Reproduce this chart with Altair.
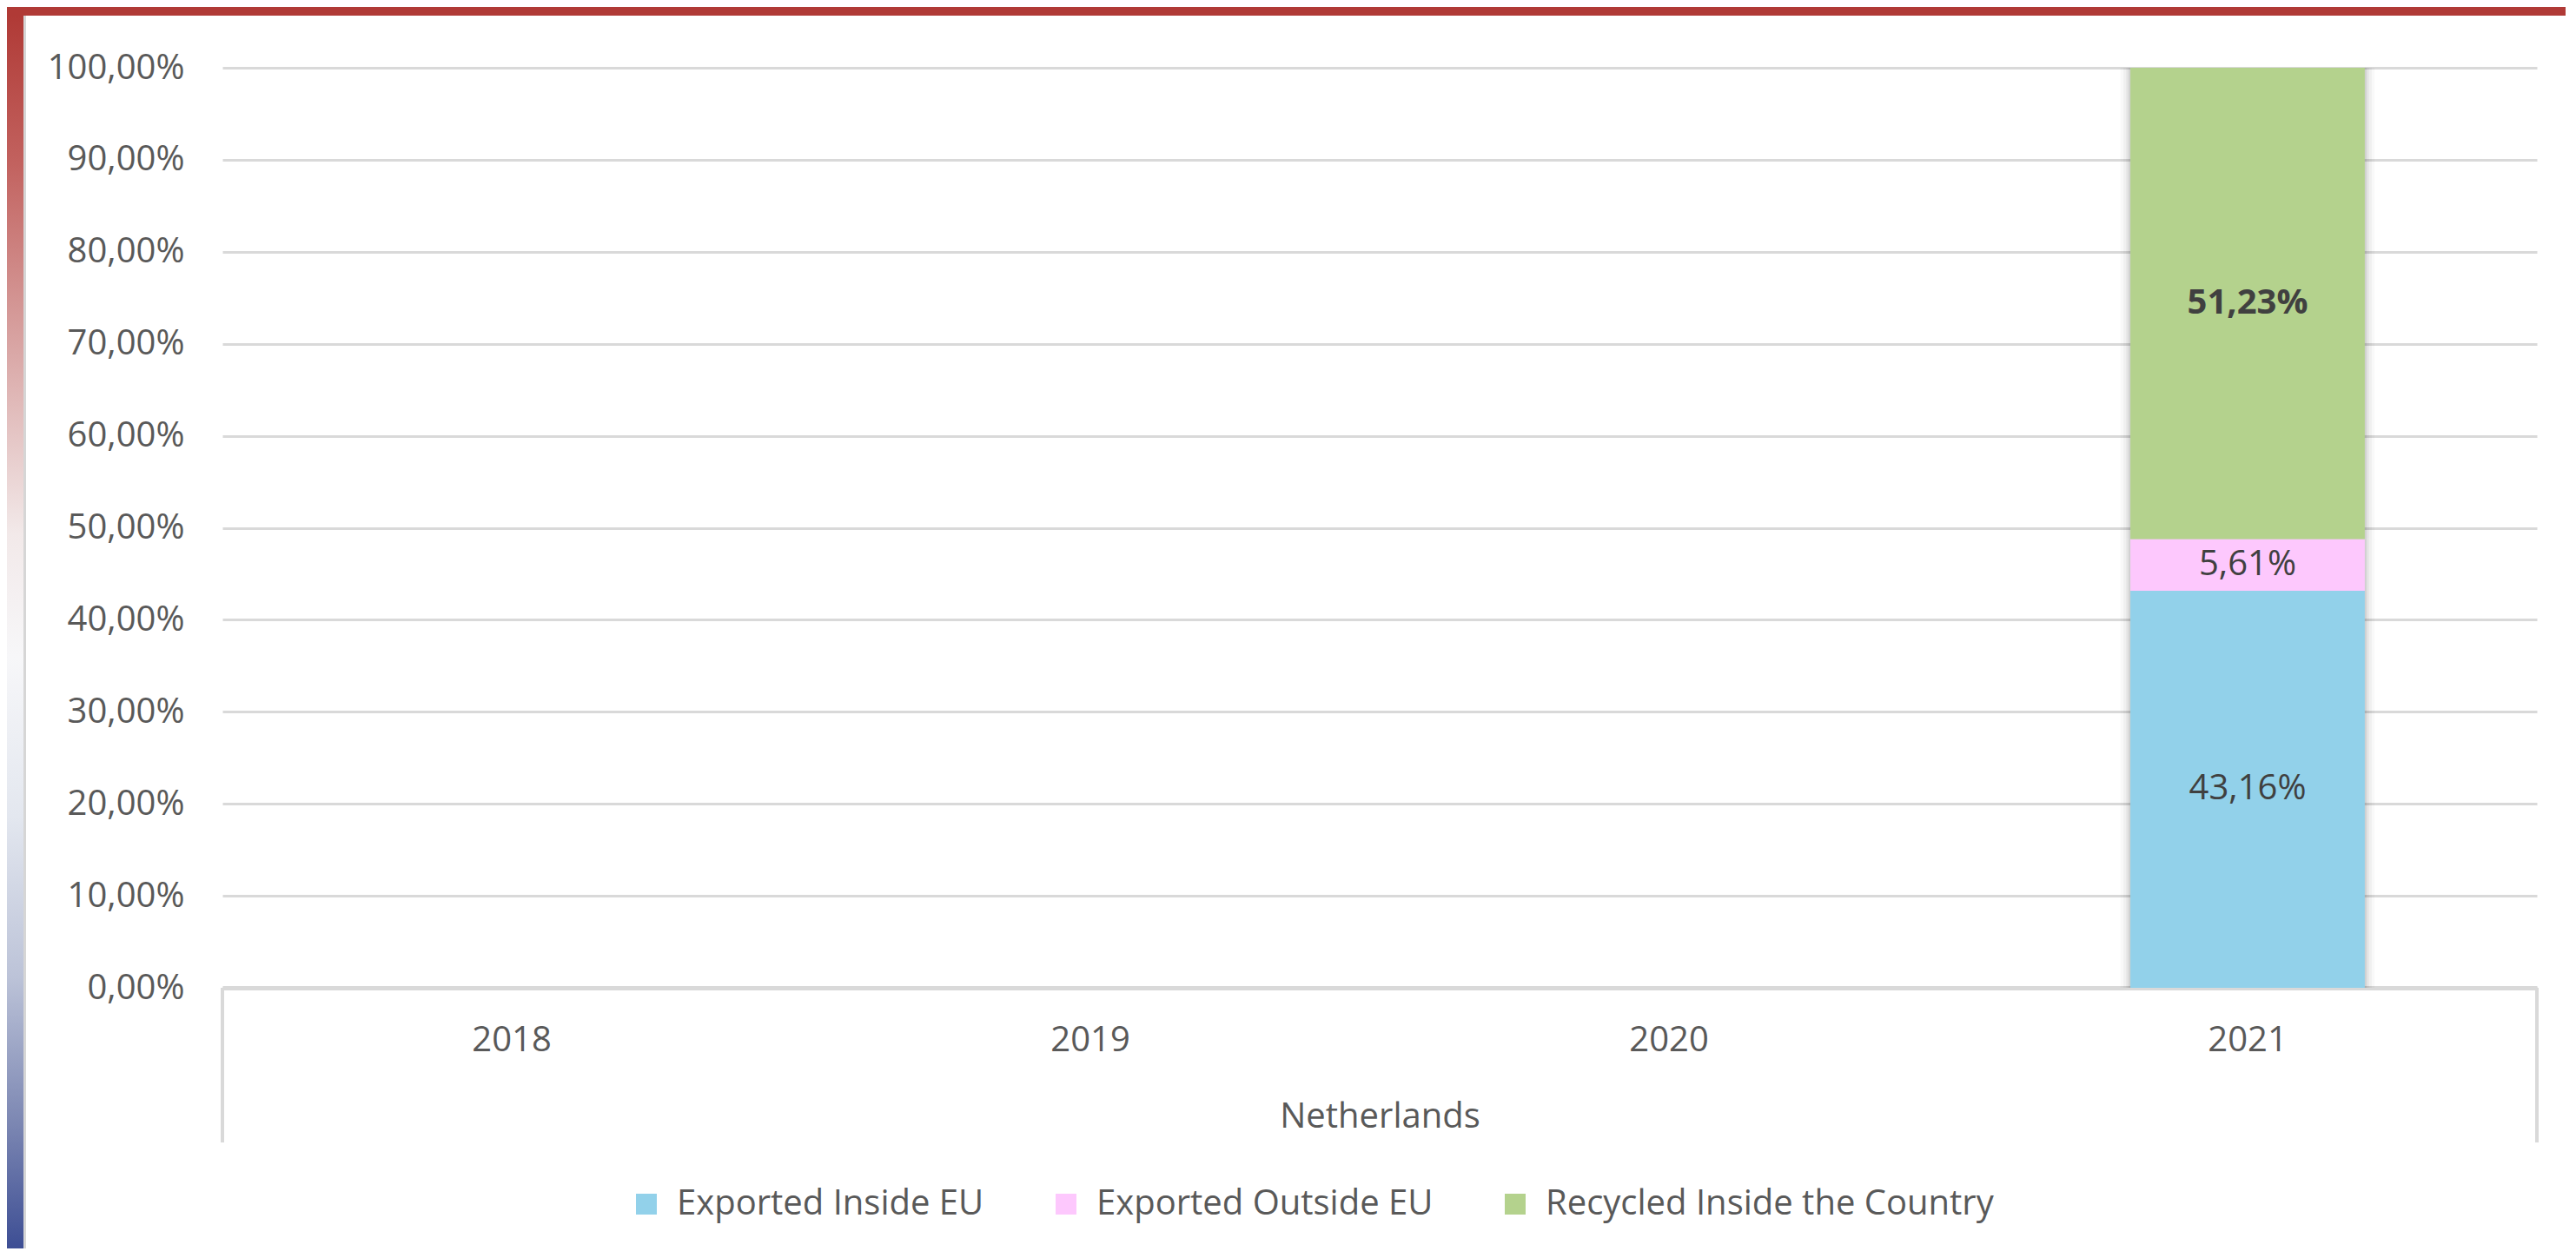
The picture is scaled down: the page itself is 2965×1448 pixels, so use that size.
import altair as alt
import pandas as pd

# ---- data ----
years = ["2018", "2019", "2020", "2021"]
series = ["Exported Inside EU", "Exported Outside EU", "Recycled Inside the Country"]
data_year = "2021"
values_2021 = [43.16, 5.61, 51.23]
series_colors = ["#92D1EA", "#FDC8FD", "#B4D28D"]
y_ticks = [0, 10, 20, 30, 40, 50, 60, 70, 80, 90, 100]
group_label = "Netherlands"

df = pd.DataFrame({
    "year": [data_year] * len(series),
    "series": series,
    "value": values_2021,
    "idx": list(range(len(series))),
})

W, H = 2664, 1059
PAD_L, PAD_T, PAD_R, PAD_B = 248, 70, 33, 300
FONT = "Open Sans"
GRAY = "#595959"
LINE = "#D9D9D9"
FMT = "replace(format(datum.value, '.2f'), '.', ',') + '%'"

x_enc = alt.X(
    "year:N",
    sort=years,
    scale=alt.Scale(domain=years, paddingInner=0.595, paddingOuter=0.2975),
    axis=alt.Axis(
        title=group_label, titleFont=FONT, titleFontSize=40, titleFontWeight="normal",
        titleColor=GRAY, titleY=148, titleBaseline="middle",
        labelFont=FONT, labelFontSize=40, labelColor=GRAY, labelPadding=60,
        labelBaseline="middle", labelAngle=0, ticks=False, grid=False,
        domain=True, domainColor=LINE, domainWidth=5,
    ),
)
y_scale = alt.Scale(domain=[0, 100], nice=False)
y_axis = alt.Axis(
    title=None, values=y_ticks, labelExpr=FMT, domain=False, ticks=False,
    grid=True, gridColor=LINE, gridWidth=3, labelFont=FONT, labelFontSize=40,
    labelColor=GRAY, labelPadding=44, labelOverlap=False,
)

base = alt.Chart(df).transform_stack(
    stack="value", groupby=["year"], as_=["y0", "y1"],
    sort=[alt.SortField("idx", order="ascending")],
).transform_calculate(
    mid="(datum.y0 + datum.y1) / 2",
    label="replace(format(datum.value, '.2f'), '.', ',') + '%'",
)

# soft shadow around the bar
shadows = [
    base.mark_bar(color="#000000", opacity=op, width=alt.RelativeBandSize(band=b)).encode(
        x=x_enc, y=alt.Y("y0:Q", scale=y_scale, axis=y_axis), y2="y1:Q"
    )
    for b, op in [(1.085, 0.025), (1.06, 0.035), (1.035, 0.05), (1.015, 0.08)]
]

bars = base.mark_bar().encode(
    x=x_enc,
    y=alt.Y("y0:Q", scale=y_scale, axis=y_axis),
    y2="y1:Q",
    color=alt.Color(
        "series:N",
        scale=alt.Scale(domain=series, range=series_colors),
        legend=alt.Legend(
            title=None, orient="none", legendX=468, legendY=1288,
            direction="horizontal", columns=3, symbolType="square",
            symbolSize=576, symbolStrokeWidth=0, symbolOpacity=1,
            labelFont=FONT, labelFontSize=40, labelColor=GRAY, labelLimit=0,
            labelOffset=15, columnPadding=74, padding=0,
        ),
    ),
)

labels_norm = base.transform_filter("datum.idx < 2").mark_text(
    font=FONT, fontSize=40, color="#404040", baseline="middle"
).encode(x=x_enc, y=alt.Y("mid:Q", scale=y_scale, axis=y_axis), text="label:N")

labels_bold = base.transform_filter("datum.idx == 2").mark_text(
    font=FONT, fontSize=40, color="#404040", baseline="middle", fontWeight="bold"
).encode(x=x_enc, y=alt.Y("mid:Q", scale=y_scale, axis=y_axis), text="label:N")

one = pd.DataFrame({"k": [0]})

# multi-level category axis side lines
side_l = alt.Chart(one).mark_rule(color=LINE, strokeWidth=4).encode(
    x=alt.value(0), y=alt.value(H), y2=alt.value(H + 178))
side_r = alt.Chart(one).mark_rule(color=LINE, strokeWidth=4).encode(
    x=alt.value(W), y=alt.value(H), y2=alt.value(H + 178))

# slide decoration: red top band, gradient strip on the left
red_band = alt.Chart(one).mark_rect(color="#B03A36").encode(
    x=alt.value(-PAD_L), x2=alt.value(W + PAD_R), y=alt.value(-PAD_T), y2=alt.value(-PAD_T + 10))
grad = alt.Gradient(
    gradient="linear", x1=0, x2=0, y1=0, y2=1,
    stops=[
        alt.GradientStop(color="#B03A36", offset=0),
        alt.GradientStop(color="#C2625F", offset=0.12),
        alt.GradientStop(color="#D9A6A5", offset=0.27),
        alt.GradientStop(color="#F2E9E9", offset=0.42),
        alt.GradientStop(color="#F7F7F9", offset=0.52),
        alt.GradientStop(color="#E3E7EF", offset=0.65),
        alt.GradientStop(color="#BCC3D8", offset=0.78),
        alt.GradientStop(color="#7B86B2", offset=0.9),
        alt.GradientStop(color="#3D4E94", offset=1),
    ],
)
strip = alt.Chart(one).mark_rect(color=grad).encode(
    x=alt.value(-PAD_L), x2=alt.value(-PAD_L + 19), y=alt.value(-PAD_T + 10), y2=alt.value(H + PAD_B))
strip_line = alt.Chart(one).mark_rect(color="#D6D6D6").encode(
    x=alt.value(-PAD_L + 19), x2=alt.value(-PAD_L + 22), y=alt.value(-PAD_T + 10), y2=alt.value(H + PAD_B))

chart = alt.layer(
    *shadows, bars, labels_norm, labels_bold, side_l, side_r, red_band, strip, strip_line
).properties(
    width=W, height=H,
    autosize=alt.AutoSizeParams(type="none"),
    padding={"left": PAD_L, "top": PAD_T, "right": PAD_R, "bottom": PAD_B},
    background="white",
).configure_view(stroke=None)

chart.save("out.html", embed_options={"renderer": "svg", "actions": False})
